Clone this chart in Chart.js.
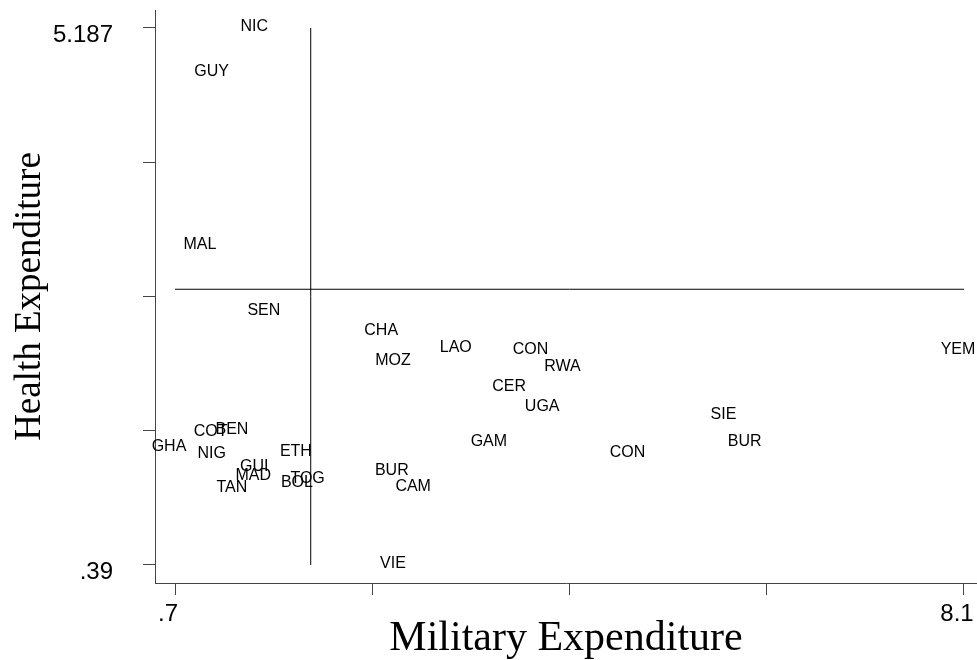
<!DOCTYPE html>
<html>
<head>
<meta charset="utf-8">
<script src="https://cdn.jsdelivr.net/npm/chart.js@4"></script>
<style>
  body { margin: 0; background: #fff; }
  #wrap { width: 977px; height: 660px; }
</style>
</head>
<body>
<div id="wrap"><canvas id="scatter-chart" width="977" height="660"></canvas></div>
<script>
// country codes and their values
let countries = ["NIC", "GUY", "MAL", "SEN", "GHA", "COT", "BEN", "NIG", "ETH", "GUI",
    "MAD", "TAN", "TOG", "BOL", "BUR", "CAM", "VIE", "CHA", "MOZ", "LAO",
    "CON", "RWA", "CER", "UGA", "GAM", "CON", "YEM", "SIE", "BUR"];
let militaryExp = [1.50, 1.10, 0.99, 1.59, 0.70, 1.09, 1.29, 1.10, 1.89, 1.50,
    1.49, 1.29, 2.00, 1.90, 2.79, 2.99, 2.80, 2.69, 2.80, 3.39,
    4.09, 4.39, 3.89, 4.20, 3.70, 5.00, 8.10, 5.90, 6.10];
let healthExp = [5.187, 4.785, 3.244, 2.650, 1.440, 1.574, 1.587, 1.373, 1.391, 1.261,
    1.176, 1.074, 1.149, 1.114, 1.225, 1.078, 0.390, 2.476, 2.208, 2.327,
    2.306, 2.154, 1.976, 1.797, 1.482, 1.381, 2.306, 1.721, 1.484];

// axis ticks (only the ends get a label)
let xTicks = [0.7, 2.55, 4.4, 6.25, 8.1];
let xTickLabels = [".7", "", "", "", "8.1"];
let yTicks = [0.39, 1.589, 2.788, 3.988, 5.187];
let yTickLabels = [".39", "", "", "", "5.187"];

// reference lines
let xRefLine = 1.973;
let yRefLine = 2.853;

let points = countries.map((c, i) => ({ x: militaryExp[i], y: healthExp[i] }));

let textLabels = {
    id: "textLabels",
    afterDatasetsDraw(chart) {
        let ctx = chart.ctx;
        let meta = chart.getDatasetMeta(0);
        ctx.save();
        ctx.font = "16px 'Liberation Sans', Arial, sans-serif";
        ctx.fillStyle = "#000";
        ctx.textAlign = "center";
        ctx.textBaseline = "middle";
        meta.data.forEach((pt, i) => {
            ctx.fillText(countries[i], pt.x - 6, pt.y - 1);
        });
        ctx.restore();
    }
};

let ctx = document.getElementById("scatter-chart").getContext("2d");

let scatterChart = new Chart(ctx, {
    type: "scatter",
    data: {
        datasets: [{
            label: "countries",
            data: points,
            pointRadius: 0,
            pointHoverRadius: 0,
        }, {
            type: "line",
            data: [{ x: xRefLine, y: yTicks[0] }, { x: xRefLine, y: yTicks[yTicks.length - 1] }],
            borderColor: "#000",
            borderWidth: 1,
            pointRadius: 0,
            fill: false,
        }, {
            type: "line",
            data: [{ x: xTicks[0], y: yRefLine }, { x: xTicks[xTicks.length - 1], y: yRefLine }],
            borderColor: "#000",
            borderWidth: 1,
            pointRadius: 0,
            fill: false,
        }],
    },
    options: {
        responsive: false,
        animation: false,
        layout: { padding: { top: 10, right: 0, left: 0, bottom: 0 } },
        plugins: {
            legend: { display: false },
            tooltip: { enabled: false },
        },
        scales: {
            x: {
                type: "linear",
                min: 0.5124,
                max: 8.222,
                afterFit: (scale) => {
                    scale.height = 77;
                    scale.paddingLeft = 0;
                    scale.paddingRight = 0;
                },
                afterBuildTicks: (scale) => { scale.ticks = xTicks.map(v => ({ value: v })); },
                grid: { drawOnChartArea: false, drawTicks: true, tickLength: 12, color: "#444" },
                border: { display: true, color: "#444" },
                ticks: {
                    padding: 5,
                    labelOffset: -7,
                    maxRotation: 0,
                    autoSkip: false,
                    color: "#000",
                    font: { family: "'Liberation Sans', Arial", size: 24 },
                    callback: (v, i) => xTickLabels[i],
                },
                title: {
                    display: true,
                    text: "Military Expenditure",
                    color: "#000",
                    font: { family: "'Liberation Serif', 'Times New Roman', serif", size: 42, lineHeight: 1 },
                    padding: { top: 0, bottom: 0 },
                },
            },
            y: {
                type: "linear",
                min: 0.2288,
                max: 5.3478,
                afterFit: (scale) => {
                    scale.width = 155;
                    scale.paddingTop = 0;
                    scale.paddingBottom = 0;
                },
                afterBuildTicks: (scale) => { scale.ticks = yTicks.map(v => ({ value: v })); },
                grid: { drawOnChartArea: false, drawTicks: true, tickLength: 12, color: "#444" },
                border: { display: true, color: "#444" },
                ticks: {
                    padding: 30,
                    labelOffset: 7,
                    autoSkip: false,
                    color: "#000",
                    font: { family: "'Liberation Sans', Arial", size: 24 },
                    callback: (v, i) => yTickLabels[i],
                },
                title: {
                    display: true,
                    text: "Health Expenditure",
                    color: "#000",
                    font: { family: "'Liberation Serif', 'Times New Roman', serif", size: 37 },
                    padding: { top: 8, bottom: 0 },
                },
            },
        },
    },
    plugins: [textLabels],
});
</script>
</body>
</html>
